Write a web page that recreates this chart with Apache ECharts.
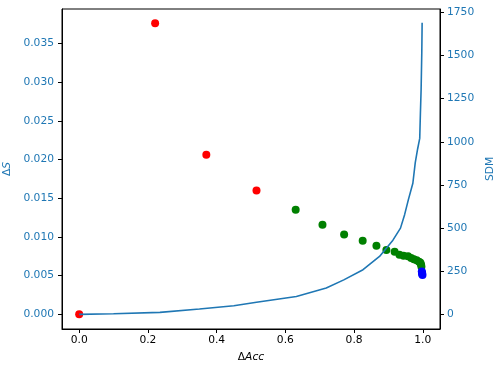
<!DOCTYPE html>
<html>
<head>
<meta charset="utf-8">
<script src="https://cdn.jsdelivr.net/npm/echarts@6/dist/echarts.min.js"></script>
<style>
  html, body { margin: 0; padding: 0; background: #fff; }
  #chart { width: 499px; height: 371px; }
</style>
</head>
<body>
<div id="chart"></div>
<script>
// scatter points (ΔAcc, ΔS)
const redPts = [[0, 0], [0.221, 0.0376], [0.370, 0.0206], [0.516, 0.0160]];
const greenPts = [
  [0.630, 0.01352], [0.708, 0.01159], [0.771, 0.01033], [0.825, 0.00952],
  [0.865, 0.00887], [0.894, 0.00832], [0.918, 0.00808], [0.932, 0.00771],
  [0.944, 0.00758], [0.957, 0.00752], [0.966, 0.00728], [0.974, 0.00713],
  [0.982, 0.00700], [0.989, 0.00681], [0.993, 0.00668], [0.995, 0.00642],
  [0.996, 0.00616]
];
const bluePts = [[0.997, 0.00553], [0.998, 0.00538], [0.998, 0.00522], [0.999, 0.00508]];
// SDM curve (ΔAcc, SDM)
const sdmLine = [
  [0, 0], [0.1, 4], [0.235, 12], [0.35, 31], [0.45, 50], [0.516, 70],
  [0.632, 104], [0.719, 153], [0.77, 200], [0.826, 259], [0.874, 336],
  [0.913, 430], [0.935, 500], [0.947, 578], [0.958, 665], [0.971, 760],
  [0.978, 880], [0.985, 960], [0.989, 1000], [0.991, 1020], [0.993, 1167],
  [0.995, 1300], [0.997, 1516], [0.998, 1690]
];
const xTicks = [0, 0.2, 0.4, 0.6, 0.8, 1.0];
const dsTicks = [0, 0.005, 0.010, 0.015, 0.020, 0.025, 0.030, 0.035];
const sdmTicks = [0, 250, 500, 750, 1000, 1250, 1500, 1750];

const blue = "#1f77b4";
const font = "DejaVu Sans";
const fs = 10.7;

let chart = echarts.init(document.getElementById("chart"));
chart.setOption({
  animation: false,
  grid: {
    left: 62, right: 59, top: 9, bottom: 42,
    outerBoundsMode: "none", containLabel: false,
    show: true, borderColor: "#000", borderWidth: 1, backgroundColor: "#fff",
  },
  xAxis: {
    type: "value", min: -0.05, max: 1.05,
    name: "{a|Δ}{b|Acc}",
    nameLocation: "middle", nameGap: 23,
    nameTextStyle: {
      rich: {
        a: { fontFamily: font, fontSize: fs, color: "#000" },
        b: { fontFamily: font, fontSize: fs, color: "#000", fontStyle: "italic" },
      },
    },
    splitLine: { show: false },
    axisLine: { onZero: false, lineStyle: { color: "#000", width: 1 } },
    axisTick: { customValues: xTicks, length: 4, lineStyle: { color: "#000" } },
    axisLabel: {
      customValues: xTicks, margin: 6, color: "#000", fontFamily: font, fontSize: fs,
      formatter: (v) => v.toFixed(1),
    },
  },
  yAxis: [
    {
      type: "value", min: -0.00189, max: 0.03944, position: "left",
      name: "{a|Δ}{b|S}",
      nameLocation: "middle", nameGap: 44, nameRotate: 90,
      nameTextStyle: {
        rich: {
          a: { fontFamily: font, fontSize: fs, color: blue },
          b: { fontFamily: font, fontSize: fs, color: blue, fontStyle: "italic" },
        },
      },
      splitLine: { show: false },
      axisLine: { show: true, onZero: false, lineStyle: { color: "#000", width: 1 } },
      axisTick: { show: true, customValues: dsTicks, length: 4, lineStyle: { color: "#000" } },
      axisLabel: {
        customValues: dsTicks, margin: 8, color: blue, fontFamily: font, fontSize: fs,
        formatter: (v) => v.toFixed(3),
      },
    },
    {
      type: "value", min: -84.6, max: 1769.7, position: "right",
      name: "SDM",
      nameLocation: "middle", nameGap: 39, nameRotate: 90,
      nameTextStyle: { fontFamily: font, fontSize: fs, color: blue },
      splitLine: { show: false },
      axisLine: { show: true, onZero: false, lineStyle: { color: "#000", width: 1 } },
      axisTick: { show: true, customValues: sdmTicks, length: 4, lineStyle: { color: "#000" } },
      axisLabel: {
        customValues: sdmTicks, margin: 7, color: blue, fontFamily: font, fontSize: fs,
        formatter: (v) => String(Math.round(v)),
      },
    },
  ],
  series: [
    {
      type: "scatter", yAxisIndex: 0, data: redPts,
      symbolSize: 8, itemStyle: { color: "#ff0000", opacity: 1 },
    },
    {
      type: "scatter", yAxisIndex: 0, data: greenPts,
      symbolSize: 8, itemStyle: { color: "#008000", opacity: 1 },
    },
    {
      type: "scatter", yAxisIndex: 0, data: bluePts,
      symbolSize: 8, itemStyle: { color: "#0000ff", opacity: 1 },
    },
    {
      type: "line", yAxisIndex: 1, data: sdmLine, z: 5,
      showSymbol: false, lineStyle: { color: blue, width: 1.6 },
    },
  ],
});
</script>
</body>
</html>
